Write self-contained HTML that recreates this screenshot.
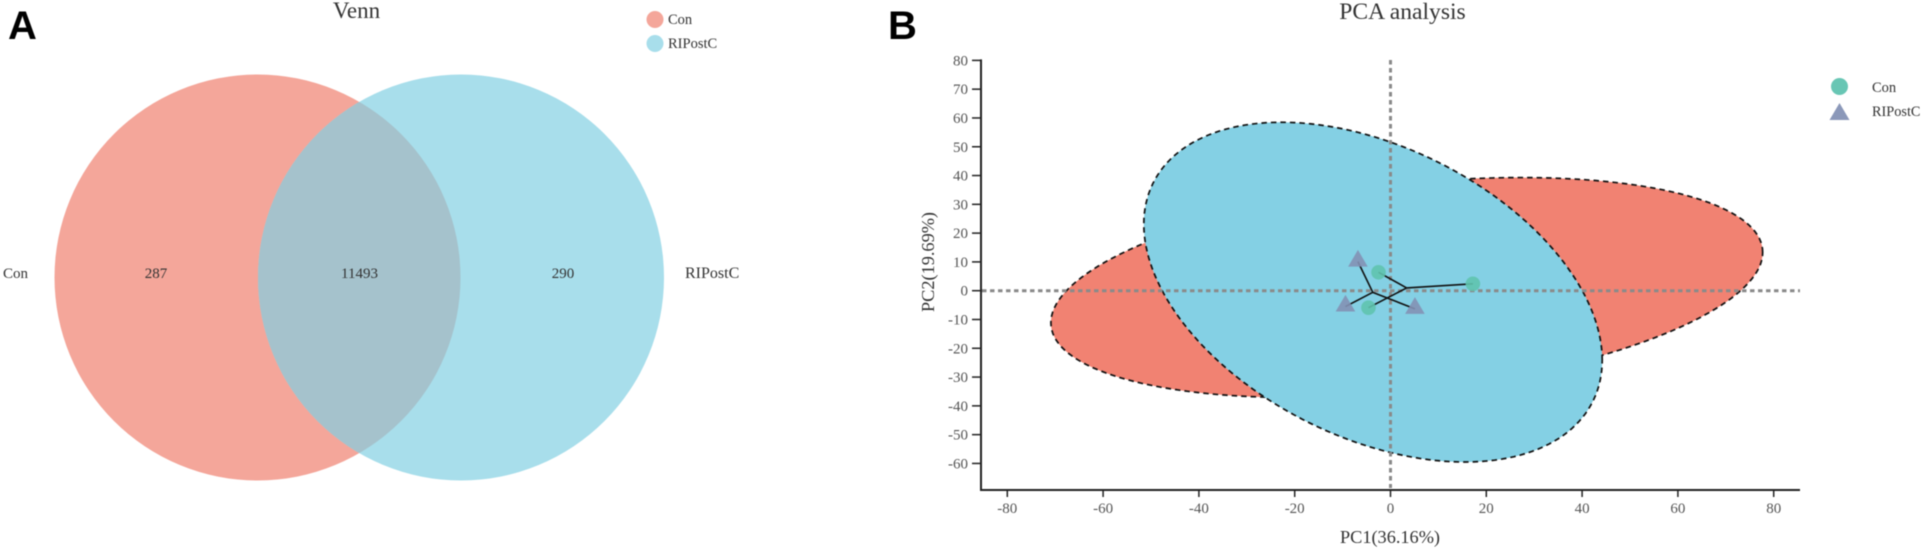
<!DOCTYPE html>
<html>
<head>
<meta charset="utf-8">
<title>Venn and PCA analysis</title>
<style>
html,body{margin:0;padding:0;background:#fff;width:1925px;height:551px;overflow:hidden}
svg{display:block;font-family:"Liberation Serif",serif;filter:blur(0.4px)}
</style>
</head>
<body>
<svg id="figure" width="1925" height="551" viewBox="0 0 1925 551" xmlns="http://www.w3.org/2000/svg">
  <defs>
    <clipPath id="venn-clip"><circle cx="461" cy="277.5" r="203"/></clipPath>
  </defs>
  <g>
    <text x="8" y="39" font-family="Liberation Sans, sans-serif" font-weight="700" font-size="40" fill="#000">A</text>
    <text x="356.5" y="18" text-anchor="middle" font-size="23" fill="#333">Venn</text>
    <circle cx="257.5" cy="277.5" r="203" fill="#F4A69A"/>
    <circle cx="461" cy="277.5" r="203" fill="#A8DEEB"/>
    <circle cx="257.5" cy="277.5" r="203" fill="#A5C2CC" clip-path="url(#venn-clip)"/>
    <text x="3" y="278" font-size="15" fill="#333">Con</text>
    <text x="156" y="278" text-anchor="middle" font-size="15" fill="#333">287</text>
    <text x="359.5" y="278" text-anchor="middle" font-size="15" fill="#333">11493</text>
    <text x="563" y="278" text-anchor="middle" font-size="15" fill="#333">290</text>
    <text x="685" y="278" font-size="16" fill="#333">RIPostC</text>
    <g>
      <circle cx="655" cy="19.5" r="8.5" fill="#F4A69A"/>
      <text x="668" y="24" font-size="14.5" fill="#333">Con</text>
      <circle cx="655" cy="43.5" r="8.5" fill="#A8DEEB"/>
      <text x="668" y="48" font-size="14.5" fill="#333">RIPostC</text>
    </g>
  </g>
  <g>
    <text x="888" y="39" font-family="Liberation Sans, sans-serif" font-weight="700" font-size="40" fill="#000">B</text>
    <text x="1402.5" y="19" text-anchor="middle" font-size="23.6" fill="#333">PCA analysis</text>
    <g id="pca-plot"></g>
    <text x="1390" y="543" text-anchor="middle" font-size="18.3" fill="#333">PC1(36.16%)</text>
    <text transform="translate(934,262) rotate(-90)" text-anchor="middle" font-size="18.3" fill="#333">PC2(19.69%)</text>
    <g>
      <circle cx="1839.5" cy="86.5" r="8.5" fill="#68C6B4"/>
      <text x="1872" y="92" font-size="14.5" fill="#333">Con</text>
      <polygon points="1839.5,103 1849.5,120 1829.5,120" fill="#8B98B9"/>
      <text x="1872" y="116" font-size="14.3" fill="#333">RIPostC</text>
    </g>
  </g>
</svg>
<script>
// Chart data (PC1 / PC2 scores)
const xTicks = [-80, -60, -40, -20, 0, 20, 40, 60, 80];
const yTicks = [80, 70, 60, 50, 40, 30, 20, 10, 0, -10, -20, -30, -40, -50, -60];
const conX = [-2.5, 17.2, -4.6];
const conY = [6.4, 2.4, -5.9];
const ripostcX = [-6.8, 5.1, -9.4];
const ripostcY = [10.1, -6.3, -5.5];
// Ellipses: centre x, centre y, half-range x, half-range y, correlation
const conEllipse = [3.4, 1.1, 74.3, 38.2, 0.32];
const ripostcEllipse = [-3.65, -0.5, 47.85, 59, -0.40];

const SVG_NS = 'http://www.w3.org/2000/svg';
const plot = document.getElementById('pca-plot');
function xScale(v) { return 1390.5 + v * 4.79; }
function yScale(v) { return 290.7 - v * 2.879; }
function mean(a) { return a.reduce(function (s, v) { return s + v; }, 0) / a.length; }
function make(tag, attrs) {
  const el = document.createElementNS(SVG_NS, tag);
  Object.keys(attrs).forEach(function (k) { el.setAttribute(k, attrs[k]); });
  plot.appendChild(el);
  return el;
}
function ellipsePath(p) {
  const phi = Math.acos(p[4]);
  let d = '';
  for (let i = 0; i < 180; i++) {
    const t = i / 180 * 2 * Math.PI;
    const x = p[0] + p[2] * Math.cos(t);
    const y = p[1] + p[3] * Math.cos(t - phi);
    d += (i ? 'L' : 'M') + xScale(x).toFixed(2) + ' ' + yScale(y).toFixed(2);
  }
  return d + 'Z';
}
const ellipseStyle = { stroke: '#111', 'stroke-width': 1.7, 'stroke-dasharray': '5.5 4' };

const conShape = make('path', Object.assign({ d: ellipsePath(conEllipse), fill: '#F18272' }, ellipseStyle));


const ripShape = make('path', Object.assign({ d: ellipsePath(ripostcEllipse), fill: '#84D0E4' }, ellipseStyle));



const hRef = make('line', { x1: 982, x2: 1800, y1: yScale(0), y2: yScale(0), stroke: '#8a8a8a', 'stroke-width': 3, 'stroke-dasharray': '4.5 3.5' });


const vRef = make('line', { x1: xScale(0), x2: xScale(0), y1: 60, y2: 488, stroke: '#8a8a8a', 'stroke-width': 3, 'stroke-dasharray': '4.5 3.5' });



const conCx = mean(conX), conCy = mean(conY);
conX.forEach(function (v, i) {
  const spoke = make('line', { x1: xScale(conCx), y1: yScale(conCy), x2: xScale(v), y2: yScale(conY[i]), stroke: '#111', 'stroke-width': 1.6 });
  
  
});
const ripCx = mean(ripostcX), ripCy = mean(ripostcY);
ripostcX.forEach(function (v, i) {
  const spoke = make('line', { x1: xScale(ripCx), y1: yScale(ripCy), x2: xScale(v), y2: yScale(ripostcY[i]), stroke: '#111', 'stroke-width': 1.6 });
  
  
});
conX.forEach(function (v, i) {
  const pt = make('circle', { cx: xScale(v), cy: yScale(conY[i]), r: 7.3, fill: '#5FC3AE', opacity: 0.9 });
  
  
});
ripostcX.forEach(function (v, i) {
  const px = xScale(v), py = yScale(ripostcY[i]);
  const pts = px + ',' + (py - 11.7) + ' ' + (px + 9.8) + ',' + (py + 5) + ' ' + (px - 9.8) + ',' + (py + 5);
  const tri = make('polygon', { points: pts, fill: '#8391B4', opacity: 0.9 });
  
  
});

const xAxis = make('line', { x1: 980, x2: 1800, y1: 490, y2: 490, stroke: '#222', 'stroke-width': 2 });


const yAxis = make('line', { x1: 981, x2: 981, y1: yScale(80) - 1, y2: 491, stroke: '#222', 'stroke-width': 2 });



xTicks.forEach(function (v) {
  const tick = make('line', { x1: xScale(v), x2: xScale(v), y1: 490, y2: 497, stroke: '#222', 'stroke-width': 1.5 });
  
  
  const label = make('text', { x: xScale(v), y: 513, 'text-anchor': 'middle', 'font-size': 15, fill: '#555' });
  
  
  label.textContent = v;
});
yTicks.forEach(function (v) {
  const tick = make('line', { x1: 972, x2: 981, y1: yScale(v), y2: yScale(v), stroke: '#222', 'stroke-width': 1.5 });
  
  
  const label = make('text', { x: 968, y: yScale(v) + 5, 'text-anchor': 'end', 'font-size': 15, fill: '#555' });
  
  
  label.textContent = v;
});
</script>
</body>
</html>
